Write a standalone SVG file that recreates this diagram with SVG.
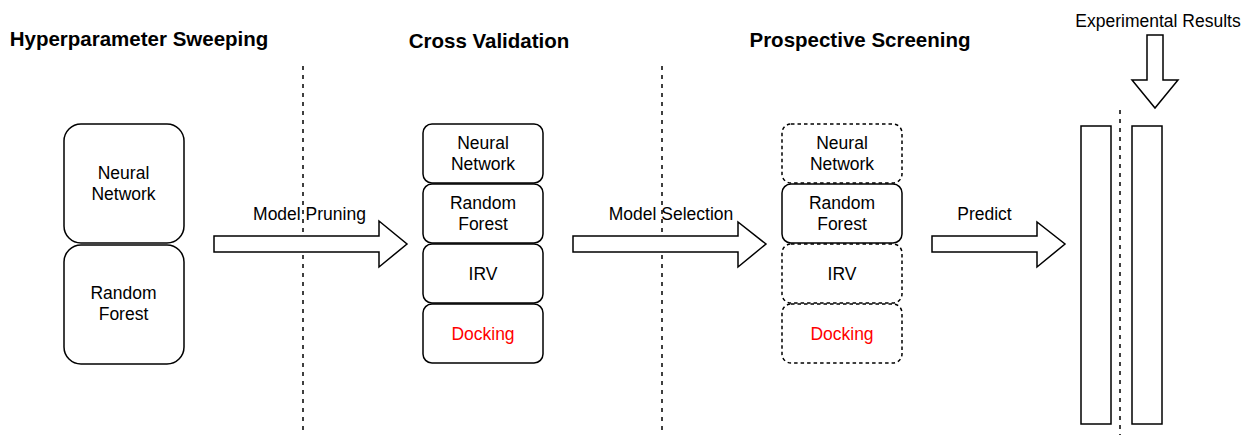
<svg xmlns="http://www.w3.org/2000/svg" width="1243" height="435" viewBox="0 0 1243 435">
<style>
text{font-family:"Liberation Sans",Arial,sans-serif;font-size:17.5px;fill:#000;text-anchor:middle}
.title{font-weight:bold;font-size:20.5px}
.red{fill:#ff0000}
.box{fill:#fff;stroke:#000;stroke-width:1.5}
.dbox{fill:#fff;stroke:#000;stroke-width:1.5;stroke-dasharray:3.5 3}
.sep{stroke:#000;stroke-width:1.5;stroke-dasharray:4 5;fill:none}
.arrow{fill:#fff;stroke:#000;stroke-width:1.5;stroke-linejoin:miter}
</style>
<rect width="1243" height="435" fill="#fff"/>
<g id="titles">
<text class="title" x="139" y="46">Hyperparameter Sweeping</text>
<text class="title" x="489" y="48">Cross Validation</text>
<text class="title" x="860" y="47">Prospective Screening</text>
</g>
<g id="separators">
<line class="sep" x1="303" y1="66" x2="303" y2="435"/>
<line class="sep" x1="662" y1="66" x2="662" y2="435"/>
<line class="sep" x1="1120" y1="110" x2="1120" y2="435"/>
</g>
<g id="connectors">
<path class="arrow" d="M214,236 H379 V221 L407,244 L379,267 V252 H214 Z"/>
<text x="309.5" y="220">Model Pruning</text>
<path class="arrow" d="M573,236 H738 V222 L766,244 L738,267 V252 H573 Z"/>
<text x="671" y="220">Model Selection</text>
<path class="arrow" d="M932,236 H1037 V222 L1065,244 L1037,267 V252 H932 Z"/>
<text x="984.5" y="220">Predict</text>
<path class="arrow" d="M1147,35 H1163 V80 H1178 L1155,108 L1132,80 H1147 Z"/>
<text x="1158" y="27">Experimental Results</text>
</g>
<g id="hs-neural-network">
<rect class="box" x="64" y="124" width="120" height="119" rx="17"/>
<text x="123.5" y="179">Neural</text>
<text x="123.5" y="200">Network</text>
</g>
<g id="hs-random-forest">
<rect class="box" x="64" y="245" width="120" height="119" rx="17"/>
<text x="123.5" y="299">Random</text>
<text x="123.5" y="320">Forest</text>
</g>
<g id="cv-neural-network">
<rect class="box" x="423" y="124" width="120" height="59" rx="9"/>
<text x="483" y="149">Neural</text>
<text x="483" y="170">Network</text>
</g>
<g id="cv-random-forest">
<rect class="box" x="423" y="184" width="120" height="59" rx="9"/>
<text x="483" y="209">Random</text>
<text x="483" y="230">Forest</text>
</g>
<g id="cv-irv">
<rect class="box" x="423" y="244" width="120" height="59" rx="9"/>
<text x="483" y="279.5">IRV</text>
</g>
<g id="cv-docking">
<rect class="box" x="423" y="304" width="120" height="59" rx="9"/>
<text class="red" x="483" y="339.5">Docking</text>
</g>
<g id="ps-neural-network">
<rect class="dbox" x="782" y="124" width="120" height="59" rx="9"/>
<text x="842" y="149">Neural</text>
<text x="842" y="170">Network</text>
</g>
<g id="ps-irv">
<rect class="dbox" x="782" y="244" width="120" height="59" rx="9"/>
<text x="842" y="279.5">IRV</text>
</g>
<g id="ps-docking">
<rect class="dbox" x="782" y="304" width="120" height="59" rx="9"/>
<text class="red" x="842" y="339.5">Docking</text>
</g>
<g id="ps-random-forest">
<rect class="box" x="782" y="184" width="120" height="59" rx="9"/>
<text x="842" y="209">Random</text>
<text x="842" y="230">Forest</text>
</g>
<g id="predictions">
<rect class="box" x="1081" y="126" width="30" height="298"/>
</g>
<g id="results">
<rect class="box" x="1132" y="126" width="30" height="298"/>
</g>
</svg>
